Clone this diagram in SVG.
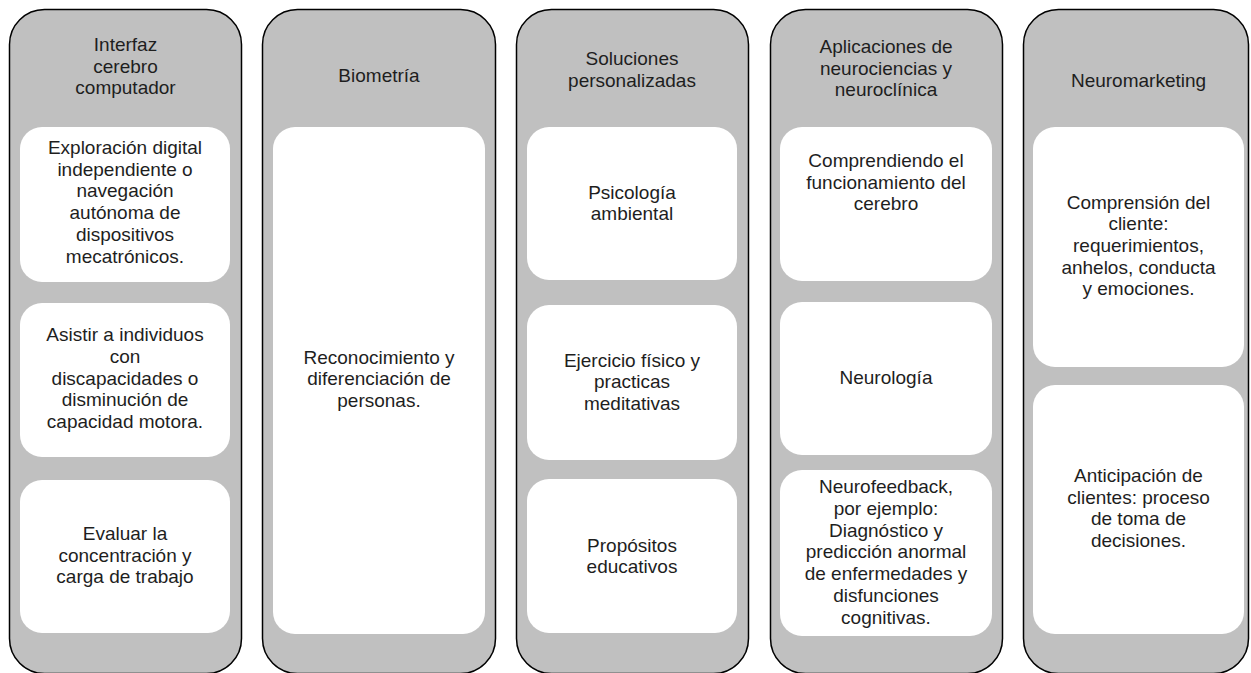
<svg xmlns="http://www.w3.org/2000/svg" width="1251" height="673" viewBox="0 0 1251 673">
  <style>
    .col { fill: #c0c0c0; stroke: #000; stroke-width: 1.5; }
    .card { fill: #ffffff; }
    text { font-family: "Liberation Sans", Arial, sans-serif; font-size: 19px; fill: #1e1e1e; text-anchor: middle; }
  </style>
  <rect width="1251" height="673" fill="#ffffff"/>

  <!-- Column 1 -->
  <g id="col-interfaz">
    <rect class="col" x="9.5" y="9.5" width="232" height="664" rx="35" ry="35"/>
    <text x="125.5"><tspan x="125.5" y="51">Interfaz</tspan><tspan x="125.5" y="72.7">cerebro</tspan><tspan x="125.5" y="94.4">computador</tspan></text>
    <g id="card-exploracion">
      <rect class="card" x="20" y="127" width="210" height="155" rx="22"/>
      <text><tspan x="125" y="154">Exploración digital</tspan><tspan x="125" y="175.7">independiente o</tspan><tspan x="125" y="197.4">navegación</tspan><tspan x="125" y="219.1">autónoma de</tspan><tspan x="125" y="240.8">dispositivos</tspan><tspan x="125" y="262.5">mecatrónicos.</tspan></text>
    </g>
    <g id="card-asistir">
      <rect class="card" x="20" y="303" width="210" height="154" rx="22"/>
      <text><tspan x="125" y="341.3">Asistir a individuos</tspan><tspan x="125" y="363">con</tspan><tspan x="125" y="384.7">discapacidades o</tspan><tspan x="125" y="406.4">disminución de</tspan><tspan x="125" y="428.1">capacidad motora.</tspan></text>
    </g>
    <g id="card-evaluar">
      <rect class="card" x="20" y="480" width="210" height="153" rx="22"/>
      <text><tspan x="125" y="540">Evaluar la</tspan><tspan x="125" y="561.7">concentración y</tspan><tspan x="125" y="583.4">carga de trabajo</tspan></text>
    </g>
  </g>

  <!-- Column 2 -->
  <g id="col-biometria">
    <rect class="col" x="262.5" y="9.5" width="233" height="664" rx="35" ry="35"/>
    <text x="379" y="82">Biometría</text>
    <g id="card-reconocimiento">
      <rect class="card" x="273" y="127" width="212" height="507" rx="22"/>
      <text><tspan x="379" y="363.5">Reconocimiento y</tspan><tspan x="379" y="385.2">diferenciación de</tspan><tspan x="379" y="406.9">personas.</tspan></text>
    </g>
  </g>

  <!-- Column 3 -->
  <g id="col-soluciones">
    <rect class="col" x="516.5" y="9.5" width="232" height="664" rx="35" ry="35"/>
    <text><tspan x="632" y="65">Soluciones</tspan><tspan x="632" y="86.7">personalizadas</tspan></text>
    <g id="card-psicologia">
      <rect class="card" x="527" y="127" width="210" height="153" rx="22"/>
      <text><tspan x="632" y="198.5">Psicología</tspan><tspan x="632" y="220.2">ambiental</tspan></text>
    </g>
    <g id="card-ejercicio">
      <rect class="card" x="527" y="305" width="210" height="155" rx="22"/>
      <text><tspan x="632" y="366.5">Ejercicio físico y</tspan><tspan x="632" y="388.2">practicas</tspan><tspan x="632" y="409.9">meditativas</tspan></text>
    </g>
    <g id="card-propositos">
      <rect class="card" x="527" y="479" width="210" height="154" rx="22"/>
      <text><tspan x="632" y="551.5">Propósitos</tspan><tspan x="632" y="573.2">educativos</tspan></text>
    </g>
  </g>

  <!-- Column 4 -->
  <g id="col-aplicaciones">
    <rect class="col" x="770.5" y="9.5" width="232" height="664" rx="35" ry="35"/>
    <text><tspan x="886" y="53">Aplicaciones de</tspan><tspan x="886" y="74.7">neurociencias y</tspan><tspan x="886" y="96.4">neuroclínica</tspan></text>
    <g id="card-comprendiendo">
      <rect class="card" x="780" y="127" width="212" height="154" rx="22"/>
      <text><tspan x="886" y="167">Comprendiendo el</tspan><tspan x="886" y="188.7">funcionamiento del</tspan><tspan x="886" y="210.4">cerebro</tspan></text>
    </g>
    <g id="card-neurologia">
      <rect class="card" x="780" y="302" width="212" height="153" rx="22"/>
      <text x="886" y="384">Neurología</text>
    </g>
    <g id="card-neurofeedback">
      <rect class="card" x="780" y="470" width="212" height="166" rx="22"/>
      <text><tspan x="886" y="493">Neurofeedback,</tspan><tspan x="886" y="514.8">por ejemplo:</tspan><tspan x="886" y="536.6">Diagnóstico y</tspan><tspan x="886" y="558.4">predicción anormal</tspan><tspan x="886" y="580.2">de enfermedades y</tspan><tspan x="886" y="602">disfunciones</tspan><tspan x="886" y="623.8">cognitivas.</tspan></text>
    </g>
  </g>

  <!-- Column 5 -->
  <g id="col-neuromarketing">
    <rect class="col" x="1023.5" y="9.5" width="225" height="664" rx="35" ry="35"/>
    <text x="1138.5" y="87">Neuromarketing</text>
    <g id="card-comprension">
      <rect class="card" x="1033" y="127" width="211" height="240" rx="22"/>
      <text><tspan x="1138.5" y="208.5">Comprensión del</tspan><tspan x="1138.5" y="230.2">cliente:</tspan><tspan x="1138.5" y="251.9">requerimientos,</tspan><tspan x="1138.5" y="273.6">anhelos, conducta</tspan><tspan x="1138.5" y="295.3">y emociones.</tspan></text>
    </g>
    <g id="card-anticipacion">
      <rect class="card" x="1033" y="385" width="211" height="249" rx="22"/>
      <text><tspan x="1138.5" y="482">Anticipación de</tspan><tspan x="1138.5" y="503.7">clientes: proceso</tspan><tspan x="1138.5" y="525.4">de toma de</tspan><tspan x="1138.5" y="547.1">decisiones.</tspan></text>
    </g>
  </g>

  <!-- no connectors in this layout -->
  <g id="connectors"/>
</svg>
